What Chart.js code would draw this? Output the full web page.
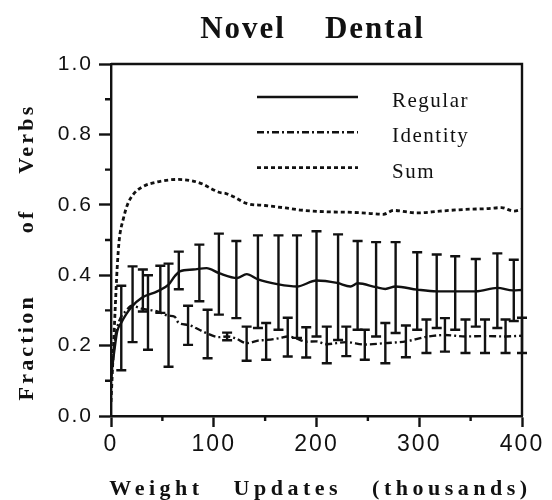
<!DOCTYPE html>
<html>
<head>
<meta charset="utf-8">
<script src="https://cdn.jsdelivr.net/npm/chart.js@4.4.0/dist/chart.umd.min.js"></script>
<style>
  html, body { margin: 0; padding: 0; background: #fff; }
</style>
</head>
<body>
<canvas id="chart" width="552" height="500"></canvas>
<script>
// values, x = weight updates (thousands)
const regularX = [0, 3, 6, 10, 15, 20, 30, 45, 56, 62, 67, 80, 93, 105, 123, 132, 143, 163, 181, 200, 220, 233, 240, 258, 267, 277, 298, 317, 335, 355, 376, 391, 400];
const regularY = [0.11, 0.18, 0.24, 0.265, 0.29, 0.31, 0.336, 0.354, 0.373, 0.397, 0.411, 0.416, 0.42, 0.406, 0.392, 0.403, 0.388, 0.374, 0.368, 0.385, 0.378, 0.368, 0.377, 0.366, 0.361, 0.368, 0.359, 0.354, 0.354, 0.354, 0.364, 0.357, 0.358];

const identityX = [0, 4, 8, 15, 20, 30, 45, 56, 62, 66, 75, 86, 94, 105, 113, 121, 132, 143, 151, 164, 172, 180, 190, 200, 210, 229, 247, 267, 287, 307, 325, 345, 364, 384, 400];
const identityY = [0.10, 0.22, 0.27, 0.30, 0.313, 0.305, 0.297, 0.285, 0.282, 0.264, 0.259, 0.245, 0.234, 0.224, 0.226, 0.221, 0.207, 0.214, 0.216, 0.221, 0.226, 0.221, 0.211, 0.212, 0.204, 0.21, 0.203, 0.207, 0.212, 0.225, 0.23, 0.226, 0.227, 0.226, 0.228];

const sumX = [0, 2, 4, 6, 8, 12, 16, 21, 30, 45, 65, 79, 90, 98, 106, 112, 120, 132, 150, 170, 185, 210, 230, 250, 265, 275, 298, 320, 345, 365, 380, 392, 400];
const sumY = [0.04, 0.17, 0.30, 0.42, 0.50, 0.56, 0.60, 0.627, 0.65, 0.665, 0.672, 0.668, 0.658, 0.645, 0.635, 0.632, 0.622, 0.604, 0.598, 0.591, 0.585, 0.58, 0.579, 0.576, 0.573, 0.584, 0.577, 0.582, 0.587, 0.589, 0.592, 0.582, 0.587];

// error bars (low / high ends)
const regErrX = [10, 21, 31, 48, 66, 86, 105, 122, 143, 163, 181, 200, 221, 240, 258, 277, 298, 317, 335, 355, 376, 392];
const regLow = [0.13, 0.21, 0.297, 0.293, 0.36, 0.326, 0.288, 0.278, 0.25, 0.245, 0.222, 0.226, 0.216, 0.245, 0.226, 0.236, 0.245, 0.25, 0.245, 0.254, 0.25, 0.27];
const regHigh = [0.37, 0.425, 0.416, 0.427, 0.467, 0.487, 0.518, 0.497, 0.513, 0.513, 0.513, 0.525, 0.516, 0.497, 0.494, 0.494, 0.465, 0.459, 0.454, 0.446, 0.462, 0.444];

const idErrX = [36, 56, 75, 94, 113, 132, 151, 172, 190, 210, 229, 247, 267, 287, 307, 325, 345, 364, 384, 400];
const idLow = [0.188, 0.14, 0.202, 0.164, 0.215, 0.157, 0.16, 0.169, 0.166, 0.15, 0.17, 0.16, 0.15, 0.167, 0.179, 0.183, 0.179, 0.179, 0.179, 0.179];
const idHigh = [0.40, 0.433, 0.313, 0.302, 0.237, 0.254, 0.264, 0.279, 0.252, 0.254, 0.254, 0.245, 0.264, 0.257, 0.274, 0.278, 0.274, 0.274, 0.274, 0.279];

const xTicks = [0, 100, 200, 300, 400];
const yTicks = [0, 0.2, 0.4, 0.6, 0.8, 1.0];

const INK = "#111";
const pts = (xs, ys) => xs.map((x, i) => ({ x: x, y: ys[i] }));

// error bars, minor ticks, box, legend and titles
const figurePlugin = {
  id: "figure",
  beforeUpdate(chart) { chart.ctx.letterSpacing = "2px"; },
  beforeDraw(chart) { chart.ctx.letterSpacing = "2px"; },
  afterDatasetsDraw(chart) {
    const { ctx, scales: { x, y } } = chart;
    ctx.save();
    ctx.strokeStyle = INK;
    ctx.lineWidth = 2.4;
    const bars = (xs, lo, hi) => {
      xs.forEach((v, i) => {
        const px = x.getPixelForValue(v);
        const y1 = y.getPixelForValue(lo[i]);
        const y2 = y.getPixelForValue(hi[i]);
        ctx.beginPath();
        ctx.moveTo(px, y1); ctx.lineTo(px, y2);
        ctx.moveTo(px - 5, y1); ctx.lineTo(px + 5, y1);
        ctx.moveTo(px - 5, y2); ctx.lineTo(px + 5, y2);
        ctx.stroke();
      });
    };
    bars(regErrX, regLow, regHigh);
    bars(idErrX, idLow, idHigh);
    ctx.restore();
  },
  afterDraw(chart) {
    const { ctx, chartArea: a, scales: { x, y } } = chart;
    ctx.save();
    ctx.strokeStyle = INK;
    ctx.lineWidth = 2.4;
    // top and right sides of the box
    ctx.beginPath();
    ctx.moveTo(a.left, a.top); ctx.lineTo(a.right, a.top); ctx.lineTo(a.right, a.bottom);
    ctx.stroke();
    // minor ticks halfway between labelled ones
    ctx.beginPath();
    for (let i = 0; i < x.ticks.length - 1; i++) {
      const px = x.getPixelForValue((x.ticks[i].value + x.ticks[i + 1].value) / 2);
      ctx.moveTo(px, a.bottom); ctx.lineTo(px, a.bottom + 5);
    }
    for (let i = 0; i < y.ticks.length - 1; i++) {
      const py = y.getPixelForValue((y.ticks[i].value + y.ticks[i + 1].value) / 2);
      ctx.moveTo(a.left, py); ctx.lineTo(a.left - 6, py);
    }
    ctx.stroke();

    // legend inside the plot
    ctx.fillStyle = INK;
    ctx.font = "21px 'Liberation Serif'";
    ctx.letterSpacing = "1.5px";
    ctx.textAlign = "left";
    ctx.textBaseline = "alphabetic";
    chart.data.datasets.forEach((ds, i) => {
      const ly = a.top + 33 + i * 35.3;
      ctx.save();
      ctx.lineWidth = ds.borderWidth;
      ctx.setLineDash(ds.borderDash || []);
      ctx.beginPath();
      ctx.moveTo(a.left + 146, ly); ctx.lineTo(a.left + 247, ly);
      ctx.stroke();
      ctx.restore();
      ctx.fillText(ds.label, a.left + 281, ly + 10);
    });

    // chart title
    const cx = (a.left + a.right) / 2;
    ctx.font = "bold 31px 'Liberation Serif'";
    ctx.letterSpacing = "2px";
    ctx.textAlign = "center";
    ctx.fillText("Novel    Dental", cx - 4, 38);

    // x axis title
    ctx.font = "bold 22px 'Liberation Serif'";
    ctx.letterSpacing = "4.5px";
    ctx.fillText("Weight   Updates   (thousands)", cx + 4, 495);

    // y axis title
    ctx.translate(33, (a.top + a.bottom) / 2 + 12);
    ctx.rotate(-Math.PI / 2);
    ctx.letterSpacing = "3.2px";
    ctx.fillText("Fraction       of    Verbs", 0, 0);
    ctx.restore();
  }
};

new Chart(document.getElementById("chart"), {
  type: "line",
  data: {
    datasets: [
      {
        label: "Regular",
        data: pts(regularX, regularY),
        borderColor: INK,
        borderWidth: 2.4,
        borderDash: [],
        pointRadius: 0,
        cubicInterpolationMode: "monotone"
      },
      {
        label: "Identity",
        data: pts(identityX, identityY),
        borderColor: INK,
        borderWidth: 2.4,
        borderDash: [7, 3, 2, 3],
        pointRadius: 0,
        cubicInterpolationMode: "monotone"
      },
      {
        label: "Sum",
        data: pts(sumX, sumY),
        borderColor: INK,
        borderWidth: 2.8,
        borderDash: [4, 3],
        pointRadius: 0,
        cubicInterpolationMode: "monotone"
      }
    ]
  },
  options: {
    responsive: false,
    animation: false,
    layout: { padding: { top: 64, right: 30, left: 0, bottom: 0 } },
    plugins: { legend: { display: false }, tooltip: { enabled: false } },
    scales: {
      x: {
        type: "linear",
        min: 0,
        max: 400,
        afterBuildTicks: s => { s.ticks = xTicks.map(v => ({ value: v })); },
        afterFit: s => { s.height = 84; },
        ticks: { color: INK, font: { family: "'Liberation Sans'", size: 23 }, padding: 4 },
        grid: { drawOnChartArea: false, tickLength: 11, tickWidth: 2.4, tickColor: INK },
        border: { color: INK, width: 2.4 }
      },
      y: {
        min: 0,
        max: 1,
        afterBuildTicks: s => { s.ticks = yTicks.map(v => ({ value: v })); },
        afterFit: s => { s.width = 111; },
        ticks: {
          color: INK,
          font: { family: "'Liberation Sans'", size: 21 },
          padding: 6,
          callback: v => v.toFixed(1)
        },
        grid: { drawOnChartArea: false, tickLength: 12, tickWidth: 2.4, tickColor: INK },
        border: { color: INK, width: 2.4 }
      }
    }
  },
  plugins: [figurePlugin]
});
</script>
</body>
</html>
